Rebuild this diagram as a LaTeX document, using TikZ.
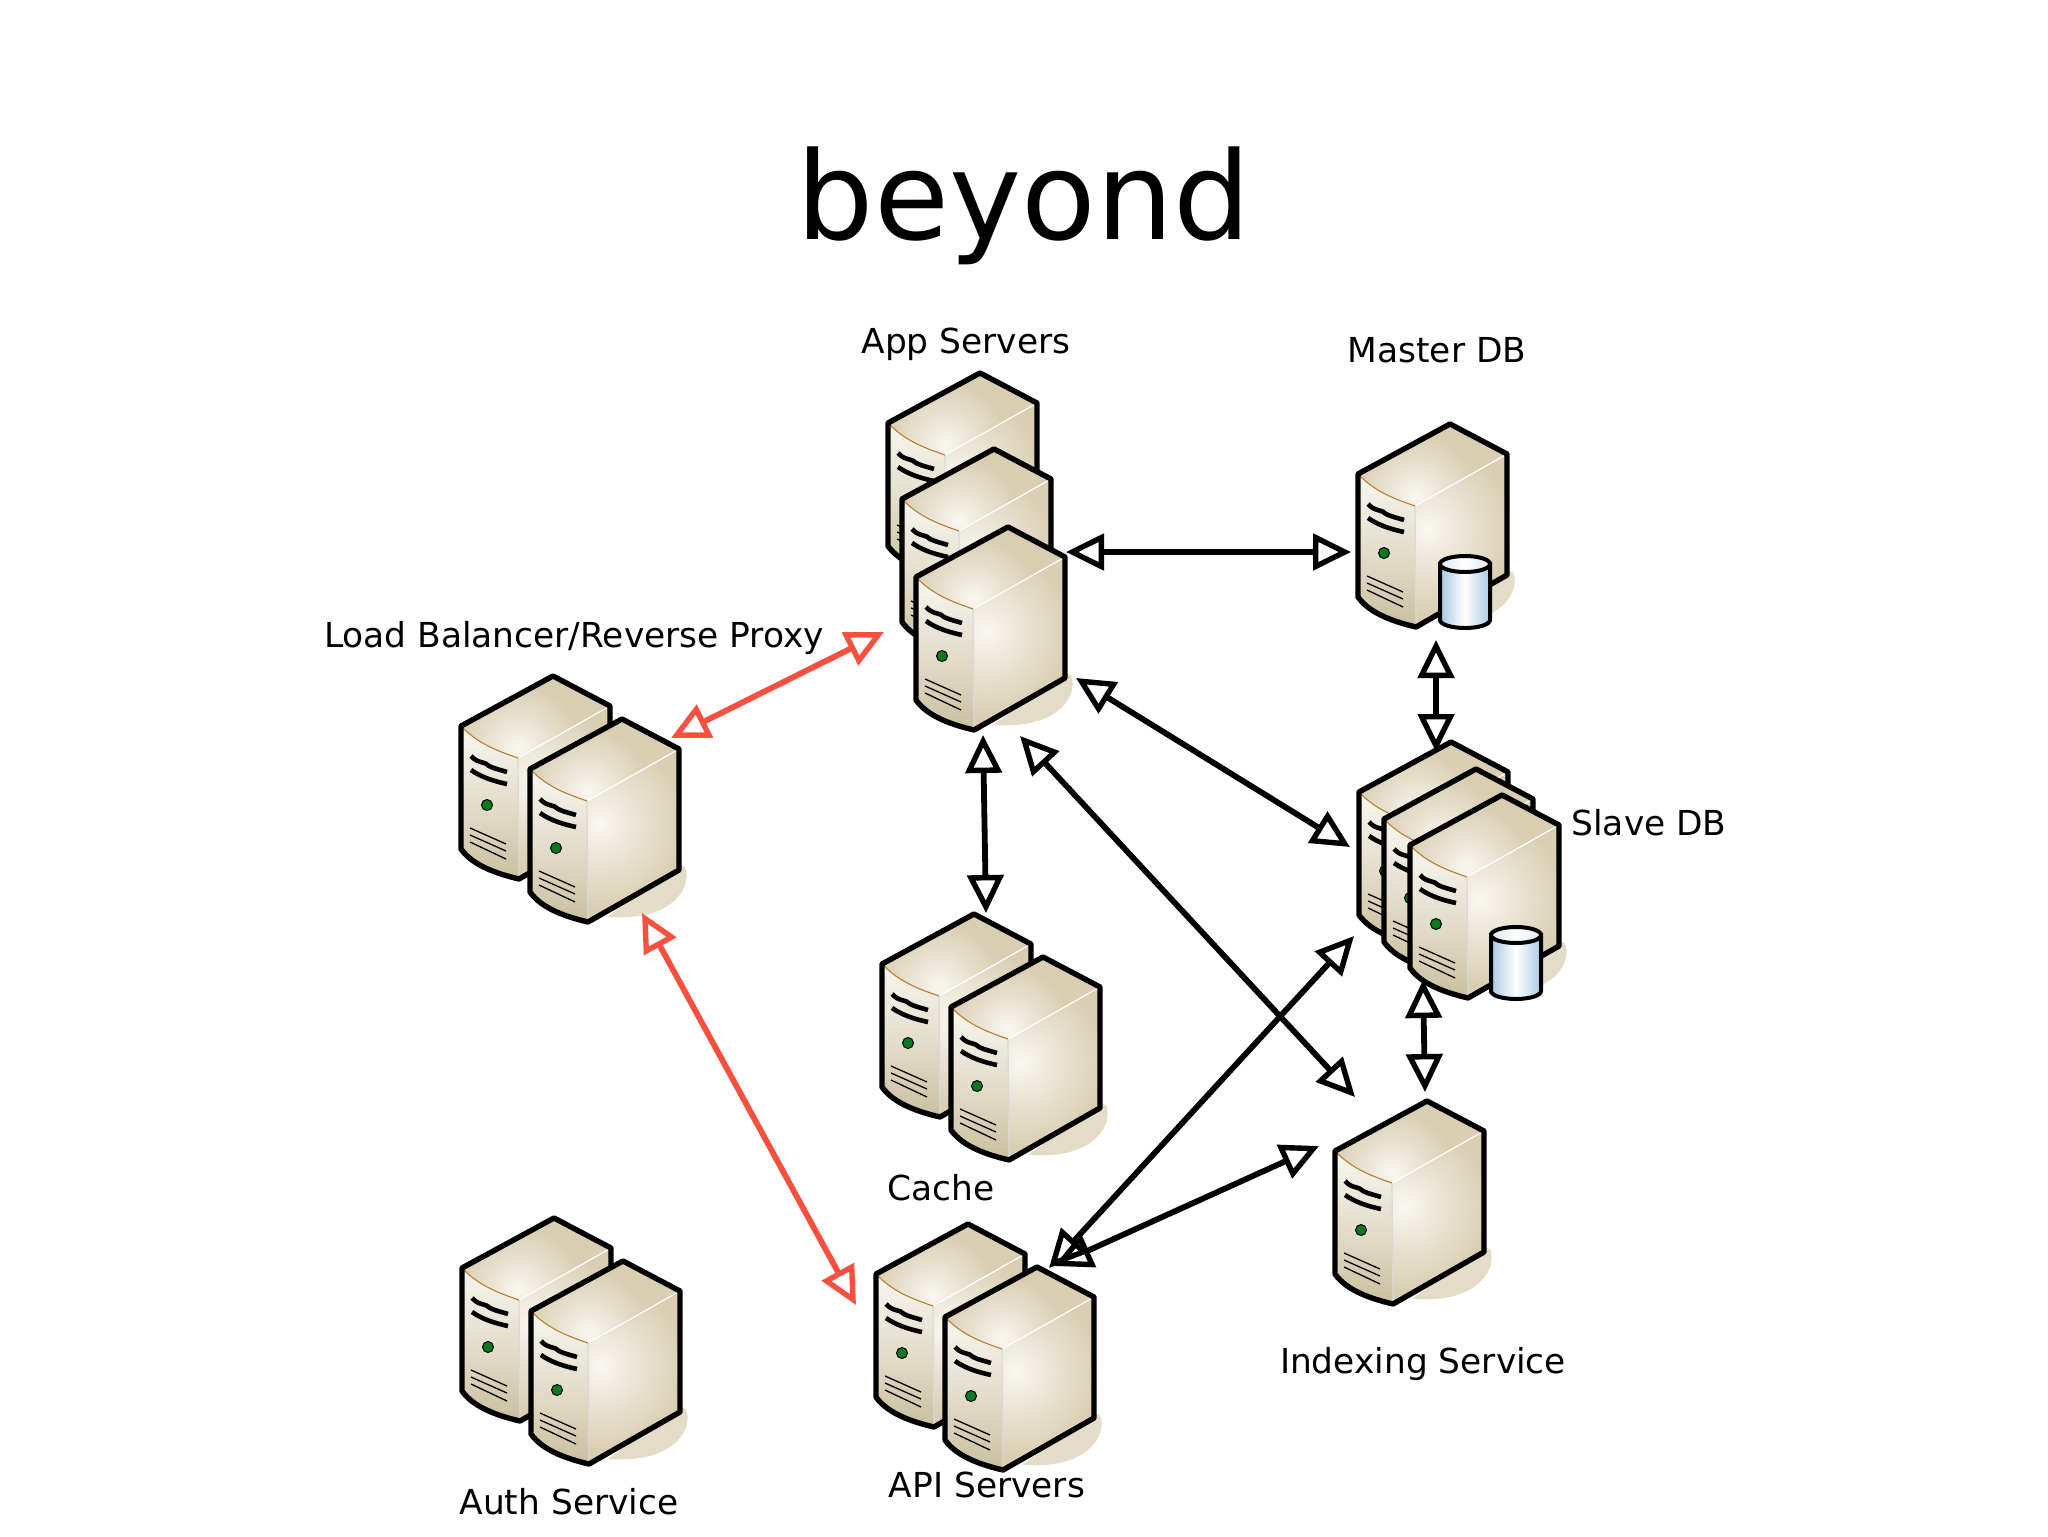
\documentclass[tikz,border=0pt]{standalone}
\usepackage{fontspec}
\setmainfont{DejaVu Sans}
\usetikzlibrary{arrows.meta}
\definecolor{srvedge}{HTML}{D9CEB2}
\definecolor{srvlight}{HTML}{F8F6F0}
\definecolor{srvfront}{HTML}{CABF9F}
\definecolor{srvshadow}{HTML}{E3DCC7}
\definecolor{srvorange}{HTML}{B9802F}
\definecolor{ledgreen}{HTML}{0B7A1C}
\definecolor{dbblue}{HTML}{A9C8E2}
\definecolor{redarrow}{HTML}{F8503F}
\tikzset{
  server/.pic={
    \fill[srvshadow] (57,146) -- (63,148) .. controls (68,160) and (62,178) .. (42,189) .. controls (25,198) and (5,199) .. (-15,198) -- cycle;
    % front face
    \shade[top color=srvlight,bottom color=srvfront,middle color=srvlight!55!srvfront]
      (-92,50) .. controls (-75,68) and (-55,75) .. (-35,82) -- (-34,203) .. controls (-55,198) and (-80,190) .. (-92,173) -- cycle;
    % top face
    \fill[srvedge] (0,0) -- (57,30) -- (-35,82) .. controls (-55,75) and (-75,68) .. (-92,50) -- cycle;
    \begin{scope}
      \clip (0,0) -- (57,30) -- (-35,82) .. controls (-55,75) and (-75,68) .. (-92,50) -- cycle;
      \shade[inner color=srvlight,outer color=srvedge] (-35,72) circle (62);
    \end{scope}
    % right face
    \fill[srvedge] (57,30) -- (57,151) -- (-34,203) -- (-35,82) -- cycle;
    \begin{scope}
      \clip (57,30) -- (57,151) -- (-34,203) -- (-35,82) -- cycle;
      \shade[inner color=srvlight,outer color=srvedge] (-22,105) circle (85);
    \end{scope}
    \draw[white,line width=0.6pt] (-35,82) -- (57,30);
    \draw[white!85!black,line width=0.6pt] (-35,82) -- (-34,203);
    \draw[srvorange,line width=0.55pt] (-92,50) .. controls (-75,68) and (-55,75) .. (-35,82);
    % slots
    \draw[black,line width=2.3pt] (-82,80) .. controls (-75,88) and (-68,85) .. (-64,90) .. controls (-58,93) and (-52,94) .. (-46,96);
    \draw[black,line width=2.3pt] (-82,94) .. controls (-72,101) and (-60,105) .. (-46,108);
    % led
    \filldraw[fill=ledgreen,draw=black,line width=0.5pt] (-66,129) circle (5.5);
    % vents
    \draw[black,line width=0.65pt] (-83,152) -- (-47,168) (-83,159) -- (-47,175) (-83,166) -- (-47,183);
    % outline
    \draw[black,line width=2.7pt,line join=round] (0,0) -- (57,30) -- (57,151) -- (-34,203) .. controls (-55,198) and (-80,190) .. (-92,173) -- (-92,50) -- cycle;
  },
  dbcyl/.pic={
    \shade[left color=dbblue,right color=dbblue,middle color=white,draw=black,line width=2pt]
      (-25,0) -- (-25,56) arc[start angle=180,end angle=0,x radius=25,y radius=8] -- (25,0) -- cycle;
    \shade[left color=dbblue!40,right color=dbblue!40,middle color=white,draw=black,line width=2pt]
      (0,0) ellipse[x radius=25,y radius=8];
  },
  lbl/.style={font=\fontsize{17.2}{20}\selectfont,inner sep=0pt,anchor=base,text=black},
  link/.style={line width=2.9pt,{Triangle[open,length=19pt,width=18pt,line width=2.7pt]}-{Triangle[open,length=19pt,width=18pt,line width=2.7pt]},line join=miter},
  blacklink/.style={link,draw=black},
  redlink/.style={link,draw=redarrow},
}
\begin{document}
\begin{tikzpicture}[x=0.5pt,y=-0.5pt]
\useasboundingbox[fill=white] (0,0) rectangle (2048,1536);
% title
\node[inner sep=0pt,anchor=base,font=\fontsize{61}{70}\selectfont] (title) at (1024,239) {beyond};
% servers
\pic (app1) at (980,373) {server};
\pic (app2) at (994,449) {server};
\pic (app3) at (1008,527) {server};
\pic (master) at (1450,424) {server};
\pic (mastercyl) at (1465,564) {dbcyl};
\pic (lb1) at (553,676) {server};
\pic (lb2) at (622,719) {server};
\pic (cache1) at (974,914) {server};
\pic (cache2) at (1043,957) {server};
\pic (slave1) at (1451,742) {server};
\pic (slave2) at (1476,769) {server};
\pic (slave3) at (1502,795) {server};
\pic (slavecyl) at (1516,935) {dbcyl};
\pic (index) at (1427,1101) {server};
\pic (api1) at (968,1224) {server};
\pic (api2) at (1037,1267) {server};
\pic (auth1) at (554,1218) {server};
\pic (auth2) at (623,1261) {server};
% labels
\node[lbl] (lapp) at (966,353) {App Servers};
\node[lbl] (lmaster) at (1437,362) {Master DB};
\node[lbl] (llb) at (574,647) {Load Balancer/Reverse Proxy};
\node[lbl] (lslave) at (1649,835) {Slave DB};
\node[lbl] (lcache) at (941,1200) {Cache};
\node[lbl] (lapi) at (987,1497) {API Servers};
\node[lbl] (lindex) at (1423,1373) {Indexing Service};
\node[lbl] (lauth) at (569,1514) {Auth Service};
% connector ends
\coordinate (a1) at (1066,552); \coordinate (a2) at (1351,552);
\coordinate (b1) at (1436,640); \coordinate (b2) at (1436,752);
\coordinate (c1) at (1076,678); \coordinate (c2) at (1350,847);
\coordinate (d1) at (983,735);  \coordinate (d2) at (986,913);
\coordinate (e1) at (1020,736); \coordinate (e2) at (1355,1097);
\coordinate (f1) at (1423,980); \coordinate (f2) at (1425,1092);
\coordinate (g1) at (1354,936); \coordinate (g2) at (1049,1268);
\coordinate (h1) at (1319,1146); \coordinate (h2) at (1054,1266);
\coordinate (i1) at (884,632);  \coordinate (i2) at (671,738);
\coordinate (j1) at (642,913);  \coordinate (j2) at (856,1305);
% connectors
\draw[blacklink] (a1) -- (a2);
\draw[blacklink] (b1) -- (b2);
\draw[blacklink] (c1) -- (c2);
\draw[blacklink] (d1) -- (d2);
\draw[blacklink] (e1) -- (e2);
\draw[blacklink] (f1) -- (f2);
\draw[blacklink] (g1) -- (g2);
\draw[blacklink] (h1) -- (h2);
\draw[redlink] (i1) -- (i2);
\draw[redlink] (j1) -- (j2);
\end{tikzpicture}
\end{document}
